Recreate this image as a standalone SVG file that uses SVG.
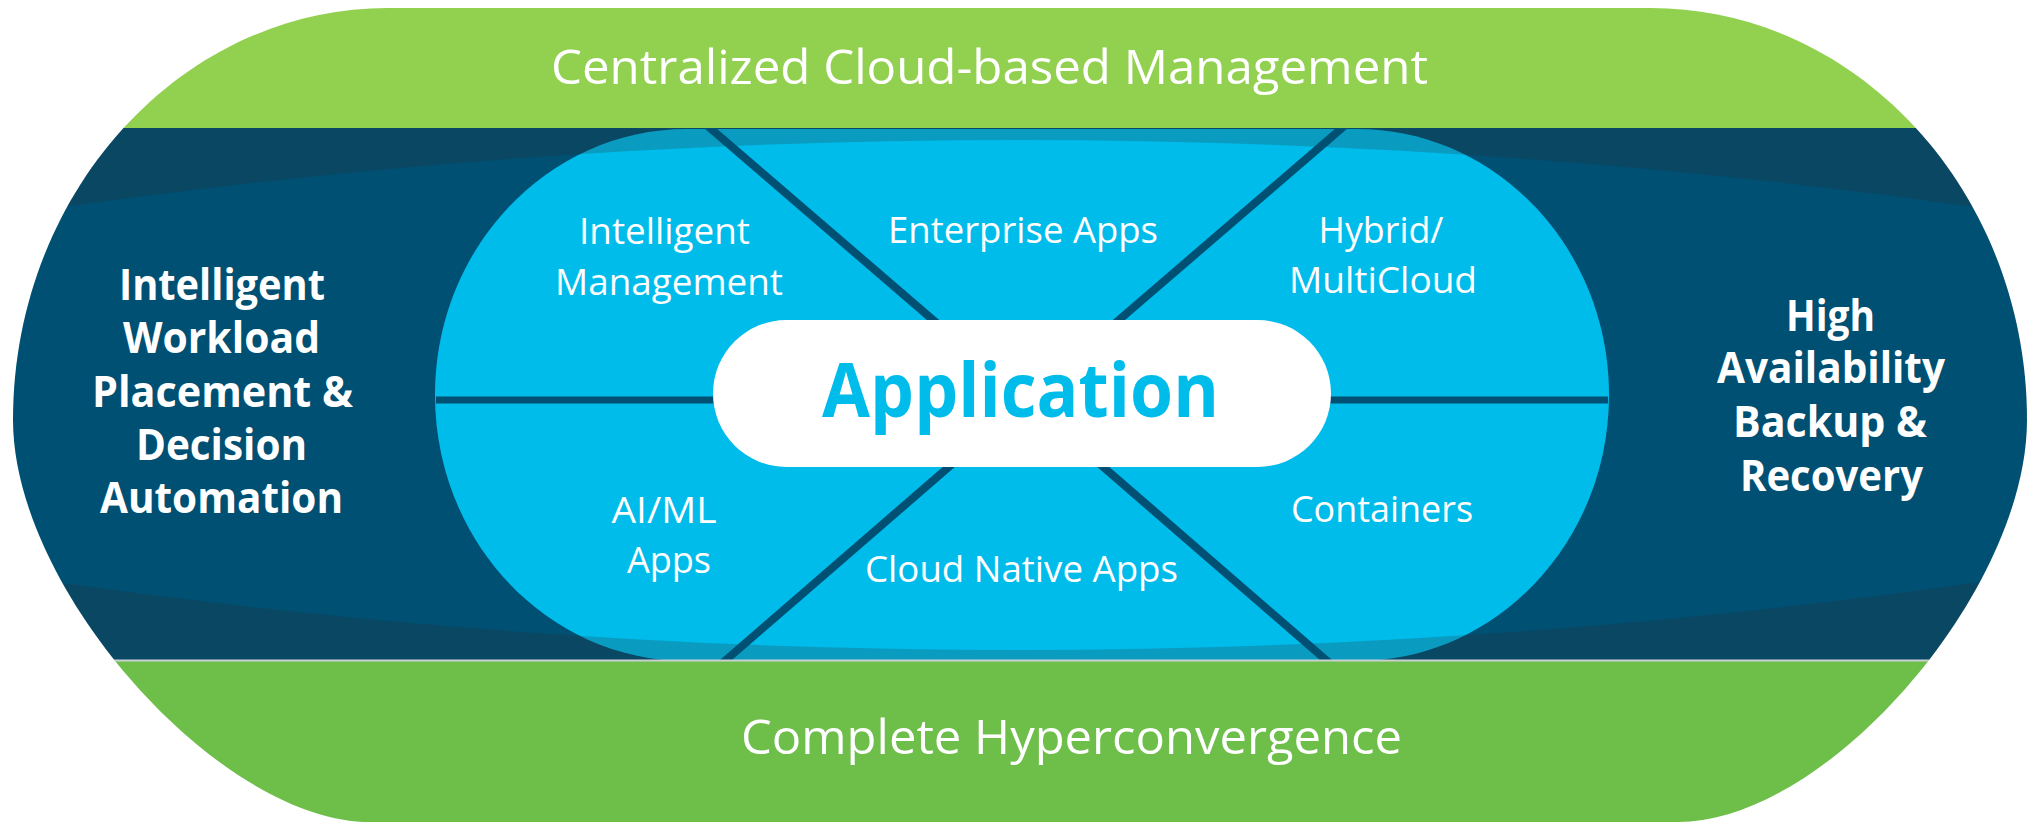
<svg xmlns="http://www.w3.org/2000/svg" width="2030" height="822" viewBox="0 0 2030 822">
<defs>
<style>
.txt{font-family:"Open Sans","Liberation Sans",sans-serif;fill:#ffffff;text-anchor:middle}
.big{font-size:48px}
.side{font-size:43px;font-weight:700}
.seg{font-size:37px}
.app{font-family:"Open Sans","Liberation Sans",sans-serif;font-size:76px;font-weight:700;fill:#00bceb;text-anchor:middle}
.line{stroke:#005073;stroke-width:8;fill:none;stroke-linecap:butt}
</style>
<clipPath id="outerClip">
<path d="M388,8 L1651,8 C1858,8 2027,193 2027,420 C2027,590 1828,822 1678,822 L370,822 C220,822 13,590 13,420 C13,193 181,8 388,8 Z"/>
</clipPath>
</defs>
<rect x="0" y="0" width="2030" height="822" fill="#ffffff"/>
<g clip-path="url(#outerClip)">
<g id="panel-middle">
<rect x="0" y="128" width="2030" height="532" fill="#005073"/>
</g>
<g id="core">
<path d="M687,129 L1357,129 C1496,129 1609,248 1609,395 C1609,542 1496,661 1357,661 L687,661 C548,661 435,542 435,395 C435,248 548,129 687,129 Z" fill="#00bceb"/>
</g>
<g id="shading" fill="#2e2a2e" fill-opacity="0.22">
<path d="M0,128 H2030 V212 L1996,210 Q1018,70 40,210 L0,212 Z"/>
<path d="M0,660 H2030 V578 L1996,580 Q1018,720 40,580 L0,578 Z"/>
</g>
<g id="connectors">
<line class="line" x1="436" y1="400" x2="1608" y2="400" style="stroke-width:7"/>
<line class="line" x1="1026" y1="400" x2="677.5" y2="100"/>
<line class="line" x1="1026" y1="400" x2="1374.5" y2="100"/>
<line class="line" x1="1026" y1="400" x2="691.4" y2="690"/>
<line class="line" x1="1026" y1="400" x2="1360.6" y2="690"/>
</g>
<g id="band-top">
<rect x="0" y="0" width="2030" height="128" fill="#92d050"/>
</g>
<g id="band-bottom">
<rect x="0" y="660" width="2030" height="162" fill="#6ebe4a"/>
<line x1="0" y1="660.5" x2="2030" y2="660.5" stroke="#c9d1d5" stroke-width="2"/>
</g>
</g>
<g id="application">
<rect x="713" y="320" width="618" height="147" rx="73.5" ry="73.5" fill="#ffffff"/>
<text class="app" x="1020.5" y="417" textLength="397" lengthAdjust="spacingAndGlyphs">Application</text>
</g>
<g id="top-label">
<text class="txt big" x="989.5" y="84" textLength="877" lengthAdjust="spacingAndGlyphs">Centralized Cloud-based Management</text>
</g>
<g id="bottom-label">
<text class="txt big" x="1071.5" y="754" textLength="661" lengthAdjust="spacingAndGlyphs">Complete Hyperconvergence</text>
</g>
<g id="left-label">
<text class="txt side" x="222" y="300" textLength="206" lengthAdjust="spacingAndGlyphs">Intelligent</text>
<text class="txt side" x="221.5" y="353.3" textLength="197" lengthAdjust="spacingAndGlyphs">Workload</text>
<text class="txt side" x="222.5" y="406.7" textLength="261" lengthAdjust="spacingAndGlyphs">Placement &amp;</text>
<text class="txt side" x="221.5" y="460" textLength="171" lengthAdjust="spacingAndGlyphs">Decision</text>
<text class="txt side" x="221.5" y="513.3" textLength="243" lengthAdjust="spacingAndGlyphs">Automation</text>
</g>
<g id="right-label">
<text class="txt side" x="1830.5" y="331" textLength="89" lengthAdjust="spacingAndGlyphs">High</text>
<text class="txt side" x="1831" y="383" textLength="228" lengthAdjust="spacingAndGlyphs">Availability</text>
<text class="txt side" x="1830" y="437" textLength="194" lengthAdjust="spacingAndGlyphs">Backup &amp;</text>
<text class="txt side" x="1831.5" y="491" textLength="183" lengthAdjust="spacingAndGlyphs">Recovery</text>
</g>
<g id="seg-intelligent-management">
<text class="txt seg" x="664.5" y="244.3" textLength="171" lengthAdjust="spacingAndGlyphs">Intelligent</text>
<text class="txt seg" x="669" y="295" textLength="228" lengthAdjust="spacingAndGlyphs">Management</text>
</g>
<g id="seg-enterprise-apps">
<text class="txt seg" x="1023" y="243" textLength="270" lengthAdjust="spacingAndGlyphs">Enterprise Apps</text>
</g>
<g id="seg-hybrid-multicloud">
<text class="txt seg" x="1381" y="243.3" textLength="125" lengthAdjust="spacingAndGlyphs">Hybrid/</text>
<text class="txt seg" x="1383" y="293.3" textLength="188" lengthAdjust="spacingAndGlyphs">MultiCloud</text>
</g>
<g id="seg-aiml-apps">
<text class="txt seg" x="664" y="523.3" textLength="105" lengthAdjust="spacingAndGlyphs">AI/ML</text>
<text class="txt seg" x="669" y="572.7" textLength="84" lengthAdjust="spacingAndGlyphs">Apps</text>
</g>
<g id="seg-cloud-native-apps">
<text class="txt seg" x="1021.5" y="582" textLength="313" lengthAdjust="spacingAndGlyphs">Cloud Native Apps</text>
</g>
<g id="seg-containers">
<text class="txt seg" x="1382" y="521.7" textLength="182" lengthAdjust="spacingAndGlyphs">Containers</text>
</g>
</svg>
